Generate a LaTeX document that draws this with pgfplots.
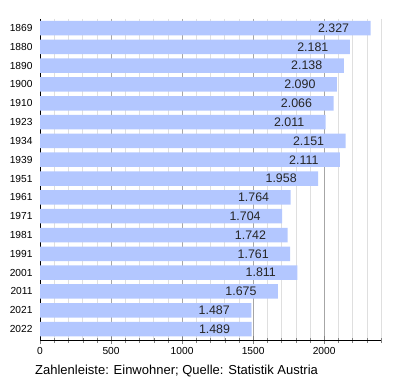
\documentclass[border=0pt]{standalone}
\usepackage{pgfplots}
\pgfplotsset{compat=1.18}
\usepackage{fontspec}
\setmainfont{Liberation Sans}
\definecolor{barblue}{RGB}{179,199,255}
\begin{document}
\begin{tikzpicture}[x=1bp,y=1bp]
\path[use as bounding box] (0,0) rectangle (400,380);
\begin{axis}[
  at={(40bp,40bp)}, anchor=south west,
  scale only axis, width=341bp, height=321bp,
  xbar, bar width=14.5bp,
  xmin=0, xmax=2400,
  ymin=-0.48, ymax=16.58, y dir=reverse,
  axis lines=left, axis line style={-, black, line width=0.8pt},
  xtick={0,500,1000,1500,2000},
  minor xtick={100,200,...,2400},
  ytick={0,...,16},
  yticklabels={1869,1880,1890,1900,1910,1923,1934,1939,1951,1961,1971,1981,1991,2001,2011,2021,2022},
  ytick style={draw=none},
  xtick align=center, major tick length=8bp, minor tick length=5bp,
  xmajorgrids, xminorgrids,
  major grid style={gray!70, line width=0.6pt},
  minor grid style={gray!25, line width=0.5pt},
  tick label style={font=\fontsize{10.2bp}{12bp}\selectfont},
  /pgf/number format/assume math mode=true,
  scaled x ticks=false,
  xticklabel style={/pgf/number format/1000 sep={}},
  point meta=explicit symbolic,
  nodes near coords,
  every node near coord/.append style={anchor=east, xshift=-18bp, font=\fontsize{12.4bp}{14bp}\selectfont, text=black!85},
]
\addplot[fill=barblue, draw=none] coordinates {
(2327,0) [2.327]
(2181,1) [2.181]
(2138,2) [2.138]
(2090,3) [2.090]
(2066,4) [2.066]
(2011,5) [2.011]
(2151,6) [2.151]
(2111,7) [2.111]
(1958,8) [1.958]
(1764,9) [1.764]
(1704,10) [1.704]
(1742,11) [1.742]
(1761,12) [1.761]
(1811,13) [1.811]
(1675,14) [1.675]
(1487,15) [1.487]
(1489,16) [1.489]
};
\end{axis}
\node[anchor=west, inner sep=0pt, font=\fontsize{13bp}{15bp}\selectfont] at (35,9) {Zahlenleiste: Einwohner; Quelle: Statistik Austria};
\end{tikzpicture}
\end{document}
